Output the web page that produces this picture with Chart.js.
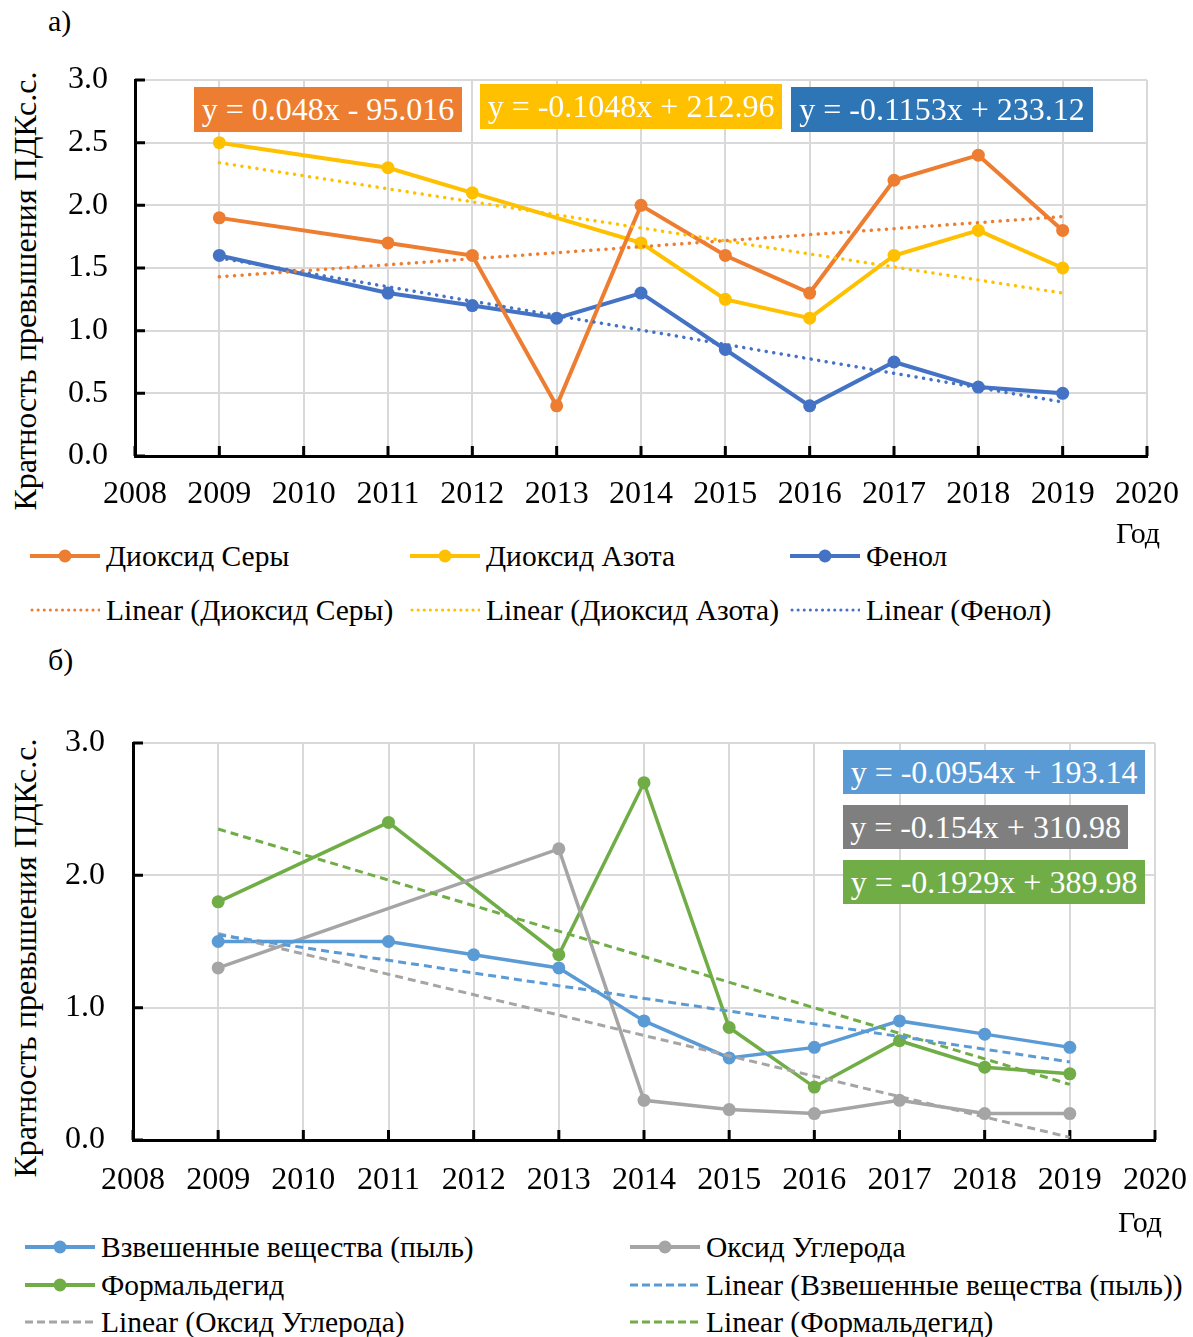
<!DOCTYPE html>
<html>
<head>
<meta charset="utf-8">
<script src="https://cdn.jsdelivr.net/npm/chart.js@4.4.0/dist/chart.umd.min.js"></script>
<style>
  body { margin: 0; background: #fff; font-family: "Liberation Serif", "Times New Roman", serif; }
  #page { position: relative; width: 1193px; height: 1337px; overflow: hidden; }
  canvas { position: absolute; left: 0; }
  .txt { position: absolute; white-space: nowrap; font-size: 30px; line-height: 30px; color: #000; }
  .ytitle { position: absolute; white-space: nowrap; font-size: 32px; line-height: 34px;
            transform: translate(-50%, -50%) rotate(-90deg); }
  .eq { position: absolute; color: #fff; font-size: 32px; text-align: center; white-space: nowrap; }
  .leg { position: absolute; display: flex; align-items: center; font-size: 29.5px; white-space: nowrap; height: 30px; }
  .leg svg { margin-right: 6px; }
</style>
</head>
<body>
<div id="page">
  <div class="txt" style="left:48px;top:6px;">а)</div>
  <div class="ytitle" style="left:25px;top:291px;">Кратность превышения ПДКс.с.</div>
  <canvas id="chartA" width="1193" height="520" style="top:0;"></canvas>
  <div class="txt" style="left:1116px;top:518px;">Год</div>

  <div class="txt" style="left:48px;top:645px;">б)</div>
  <div class="ytitle" style="left:25px;top:958px;">Кратность превышения ПДКс.с.</div>
  <canvas id="chartB" width="1193" height="560" style="top:650px;"></canvas>
  <div class="txt" style="left:1118px;top:1207px;">Год</div>

  <div id="legA"></div>
  <div id="legB"></div>
  <div id="eqs"></div>
</div>

<script>
/* ---------- данные ---------- */
const years = [2009, 2010, 2011, 2012, 2013, 2014, 2015, 2016, 2017, 2018, 2019];

// а)
const so2    = [1.9, null, 1.7, 1.6, 0.4, 2.0, 1.6,  1.3, 2.2,  2.4,  1.8];
const no2    = [2.5, null, 2.3, 2.1, null, 1.7, 1.25, 1.1, 1.6, 1.8,  1.5];
const phenol = [1.6, null, 1.3, 1.2, 1.1, 1.3, 0.85, 0.4, 0.75, 0.55, 0.5];

// б)
const dust   = [1.5, null, 1.5, 1.4, 1.3, 0.9, 0.62, 0.7, 0.9, 0.8, 0.7];
const co     = [1.3, null, null, null, 2.2, 0.3, 0.23, 0.2, 0.3, 0.2, 0.2];
const formal = [1.8, null, 2.4, null, 1.4, 2.7, 0.85, 0.4, 0.75, 0.55, 0.5];

// линии тренда (концы, по картинке)
const trendYears  = [2009, 2019];
const so2Trend    = [1.43, 1.91];
const no2Trend    = [2.34, 1.30];
const phenolTrend = [1.58, 0.43];
const dustTrend   = [1.55, 0.59];
const coTrend     = [1.56, 0.02];
const formalTrend = [2.35, 0.42];

const xTicksRange = [2008, 2020];

/* ---------- helpers ---------- */
const FONT = 'Liberation Serif';
const pts = (xs, vs) => xs.map((x, i) => ({ x: x, y: vs[i] })).filter(p => p.y !== null);

function series(label, vals, color, w, r) {
  return {
    label, data: pts(years, vals), borderColor: color, backgroundColor: color,
    borderWidth: w, pointRadius: r, pointHoverRadius: r, pointBackgroundColor: color,
    pointBorderWidth: 0, tension: 0, order: 1
  };
}
function trend(label, vals, color, dash, cap, w) {
  return {
    label, data: pts(trendYears, vals), borderColor: color, borderWidth: w,
    borderDash: dash, borderCapStyle: cap, pointRadius: 0, tension: 0, order: 0
  };
}

/* тики внутрь области построения */
const innerTicks = {
  id: 'innerTicks',
  beforeDatasetsDraw(chart) {
    const { ctx, chartArea: a, scales: { x, y } } = chart;
    ctx.save();
    ctx.strokeStyle = '#000';
    ctx.lineWidth = 3;
    ctx.beginPath();
    x.ticks.forEach(t => { const px = x.getPixelForValue(t.value); ctx.moveTo(px, a.bottom); ctx.lineTo(px, a.bottom - 10); });
    y.ticks.forEach(t => { const py = y.getPixelForValue(t.value); ctx.moveTo(a.left, py); ctx.lineTo(a.left + 10, py); });
    ctx.stroke();
    ctx.restore();
  }
};

function makeChart(id, datasets, cfg) {
  return new Chart(document.getElementById(id), {
    type: 'line',
    data: { datasets },
    plugins: [innerTicks],
    options: {
      responsive: false,
      animation: false,
      devicePixelRatio: 1,
      layout: { padding: { left: 0, right: cfg.padRight, top: cfg.padTop, bottom: 0 } },
      plugins: { legend: { display: false }, tooltip: { enabled: false } },
      scales: {
        x: {
          type: 'linear', min: xTicksRange[0], max: xTicksRange[1],
          afterFit: s => { s.height = cfg.xHeight; s.paddingLeft = 0; s.paddingRight = 0; },
          grid: { color: '#d9d9d9', lineWidth: 2, drawTicks: false },
          border: { display: true, color: '#000', width: 3 },
          ticks: { stepSize: 1, padding: cfg.xPad, color: '#000', font: { family: FONT, size: 32 },
                   callback: v => String(v), maxRotation: 0, autoSkip: false }
        },
        y: {
          min: 0, max: 3,
          afterFit: s => { s.width = cfg.yWidth; s.paddingTop = 0; s.paddingBottom = 0; },
          grid: { color: '#d9d9d9', lineWidth: 2, drawTicks: false },
          border: { display: true, color: '#000', width: 3 },
          ticks: { stepSize: cfg.yStep, padding: cfg.yPad, color: '#000', font: { family: FONT, size: 32 },
                   callback: v => v.toFixed(1) }
        }
      }
    }
  });
}

/* ---------- а) ---------- */
const cSO2 = '#ED7D31', cNO2 = '#FFC000', cPh = '#4472C4';
makeChart('chartA', [
  series('Диоксид Серы', so2, cSO2, 4, 6.5),
  series('Диоксид Азота', no2, cNO2, 4, 6.5),
  series('Фенол', phenol, cPh, 4, 6.5),
  trend('Linear (Диоксид Серы)', so2Trend, cSO2, [0.1, 7.5], 'round', 3.5),
  trend('Linear (Диоксид Азота)', no2Trend, cNO2, [0.1, 7.5], 'round', 3.5),
  trend('Linear (Фенол)', phenolTrend, cPh, [0.1, 7.5], 'round', 3.5)
], { padTop: 80, padRight: 46, xHeight: 64, yWidth: 135, yStep: 0.5, yPad: 27, xPad: 19 });

/* ---------- б) ---------- */
const cDust = '#5B9BD5', cCO = '#A5A5A5', cF = '#70AD47';
makeChart('chartB', [
  series('Взвешенные вещества (пыль)', dust, cDust, 3.5, 6.5),
  series('Оксид Углерода', co, cCO, 3.5, 6.5),
  series('Формальдегид', formal, cF, 3.5, 6.5),
  trend('Linear (Взвешенные вещества (пыль))', dustTrend, cDust, [8, 5], 'butt', 3),
  trend('Linear (Оксид Углерода)', coTrend, cCO, [8, 5], 'butt', 3),
  trend('Linear (Формальдегид)', formalTrend, cF, [8, 5], 'butt', 3)
], { padTop: 93, padRight: 38, xHeight: 70, yWidth: 133, yStep: 1, yPad: 28, xPad: 21 });

/* ---------- подписи уравнений ---------- */
const equations = [
  ['y = 0.048x - 95.016',   cSO2,      194, 87,  268, 45],
  ['y = -0.1048x + 212.96', cNO2,      480, 84,  302, 45],
  ['y = -0.1153x + 233.12', '#2E75B6', 791, 87,  302, 45],
  ['y = -0.0954x + 193.14', cDust,     843, 750, 302, 44],
  ['y = -0.154x + 310.98',  '#7F7F7F', 843, 805, 285, 44],
  ['y = -0.1929x + 389.98', cF,        843, 860, 302, 44]
];
const eqBox = document.getElementById('eqs');
equations.forEach(([t, c, l, tp, w, h]) => {
  const d = document.createElement('div');
  d.className = 'eq';
  d.textContent = t;
  d.style.cssText = `left:${l}px;top:${tp}px;width:${w}px;height:${h}px;line-height:${h}px;background:${c};`;
  eqBox.appendChild(d);
});

/* ---------- легенды ---------- */
function swatch(color, kind) {
  let s = `<svg width="70" height="20" viewBox="0 0 70 20">`;
  if (kind === 'line') {
    s += `<line x1="0" y1="10" x2="70" y2="10" stroke="${color}" stroke-width="4"/>` +
         `<circle cx="35" cy="10" r="6.5" fill="${color}"/>`;
  } else if (kind === 'dot') {
    s += `<line x1="2" y1="10" x2="70" y2="10" stroke="${color}" stroke-width="3" stroke-linecap="round" stroke-dasharray="0.1 6"/>`;
  } else {
    s += `<line x1="0" y1="10" x2="70" y2="10" stroke="${color}" stroke-width="3" stroke-dasharray="8 4"/>`;
  }
  return s + '</svg>';
}
function legend(hostId, items) {
  const host = document.getElementById(hostId);
  items.forEach(([label, color, kind, x, y]) => {
    const d = document.createElement('div');
    d.className = 'leg';
    d.style.left = x + 'px';
    d.style.top = (y - 15) + 'px';
    d.innerHTML = swatch(color, kind) + '<span></span>';
    d.querySelector('span').textContent = label;
    host.appendChild(d);
  });
}
legend('legA', [
  ['Диоксид Серы', cSO2, 'line', 30, 556],
  ['Диоксид Азота', cNO2, 'line', 410, 556],
  ['Фенол', cPh, 'line', 790, 556],
  ['Linear (Диоксид Серы)', cSO2, 'dot', 30, 610],
  ['Linear (Диоксид Азота)', cNO2, 'dot', 410, 610],
  ['Linear (Фенол)', cPh, 'dot', 790, 610]
]);
legend('legB', [
  ['Взвешенные вещества (пыль)', cDust, 'line', 25, 1247],
  ['Оксид Углерода', cCO, 'line', 630, 1247],
  ['Формальдегид', cF, 'line', 25, 1285],
  ['Linear (Взвешенные вещества (пыль))', cDust, 'dash', 630, 1285],
  ['Linear (Оксид Углерода)', cCO, 'dash', 25, 1322],
  ['Linear (Формальдегид)', cF, 'dash', 630, 1322]
]);
</script>
</body>
</html>
